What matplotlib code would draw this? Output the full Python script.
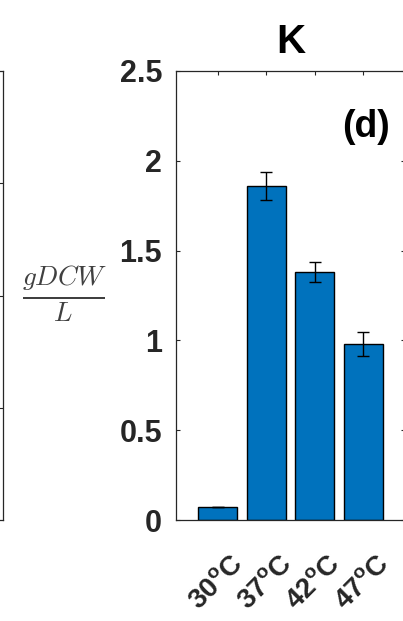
import matplotlib
matplotlib.use("Agg")
import matplotlib.pyplot as plt
from matplotlib.transforms import ScaledTranslation

plt.rcParams["font.family"] = ["Liberation Sans", "DejaVu Sans"]
plt.rcParams["mathtext.fontset"] = "custom"
plt.rcParams["mathtext.rm"] = "Liberation Sans:bold"
plt.rcParams["mathtext.it"] = "Liberation Sans:bold"
plt.rcParams["mathtext.bf"] = "Liberation Sans:bold"

# Biomass concentration of strain K at four growth temperatures
temps = ["30", "37", "42", "47"]
biomass = [0.07, 1.86, 1.38, 0.98]
biomass_err = [0.0, 0.08, 0.055, 0.065]
yticks = [0, 0.5, 1, 1.5, 2, 2.5]
ytick_labels = ["0", "0.5", "1", "1.5", "2", "2.5"]
xtick_labels = [t + r"$^{\mathrm{o}}$C" for t in temps]

ink = "#262626"
bar_color = "#0072BD"

W, H = 403, 621
fig = plt.figure(figsize=(W / 100, H / 100), dpi=100)

ax_top, ax_bot = 71, 520
fy = lambda y: 1 - y / H
ax = fig.add_axes([176 / W, fy(ax_bot), (405 - 176) / W, (ax_bot - ax_top) / H])

x = list(range(1, len(temps) + 1))
ax.bar(x, biomass, width=0.8, color=bar_color, edgecolor="black", linewidth=1.0, zorder=2)
ax.errorbar(x, biomass, yerr=biomass_err, fmt="none", ecolor="black",
            elinewidth=1.0, capsize=4.5, capthick=1.0, zorder=3)

ax.set_xlim(0.14, 4.86)
ax.set_ylim(0, 2.5)
ax.set_yticks(yticks)
ax.set_yticklabels(ytick_labels, fontsize=22, fontweight="bold", color=ink)
ax.set_xticks(x)
ax.set_xticklabels(xtick_labels, fontsize=20, fontweight="bold", color=ink,
                   rotation=45, ha="right", va="center", rotation_mode="anchor")
ax.tick_params(axis="both", direction="in", length=3, width=0.8, color=ink,
               top=True, right=True)
ax.tick_params(axis="y", pad=10)
ax.tick_params(axis="x", pad=14)
shift = ScaledTranslation(22 / 100, -20 / 100, fig.dpi_scale_trans)
for lab in ax.get_xticklabels():
    lab.set_transform(lab.get_transform() + shift)
for s in ax.spines.values():
    s.set_color(ink)
    s.set_linewidth(0.9)

ax.set_title("K", fontsize=29, fontweight="bold", color="black", pad=13)
ax.text(0.935, 0.876, "(d)", transform=ax.transAxes, fontsize=27, fontweight="bold",
        ha="right", va="center", color="black")

# Vertical-axis quantity, typeset as a fraction
fig.text(65 / W, fy(294), r"$\frac{gDCW}{L}$", fontsize=28, color="#404040",
         ha="center", va="center", math_fontfamily="cm")

# Edge of the neighbouring panel
ax0 = fig.add_axes([-0.5, fy(ax_bot), 0.5 + 3 / W, (ax_bot - ax_top) / H])
ax0.set_xlim(0, 1)
ax0.set_ylim(0, 4)
ax0.set_yticks([1, 2, 3])
ax0.set_xticks([])
ax0.tick_params(axis="y", direction="in", length=3, width=0.8, color=ink,
                left=False, right=True, labelleft=False)
for s in ax0.spines.values():
    s.set_color(ink)
    s.set_linewidth(0.9)

fig.savefig("out.png", dpi=100)
